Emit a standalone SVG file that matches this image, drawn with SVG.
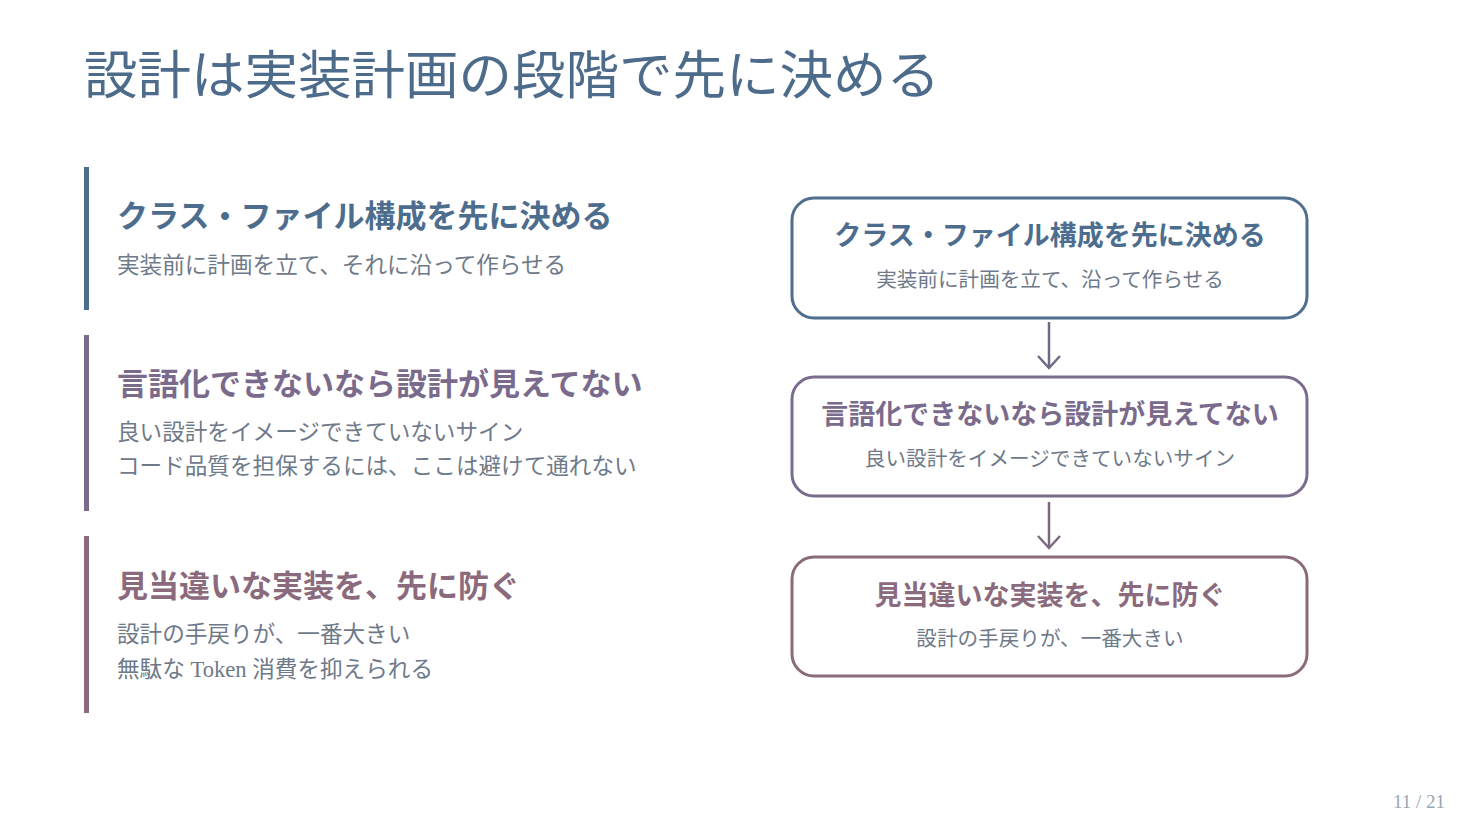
<svg xmlns="http://www.w3.org/2000/svg" width="1470" height="828" viewBox="0 0 1470 828">
<defs>
<style>
.title{font-family:"Noto Sans CJK JP","Noto Sans",sans-serif;font-size:52px;font-weight:400;fill:#4d6b8b}
.h{font-family:"Noto Sans CJK JP","Noto Sans",sans-serif;font-size:31px;font-weight:700}
.s{font-family:"Liberation Serif","Noto Sans CJK JP",serif;font-size:22.6px;fill:#6e7a8a}
.bh{font-family:"Noto Sans CJK JP","Noto Sans",sans-serif;font-size:27px;font-weight:700;text-anchor:middle}
.bs{font-family:"Liberation Serif","Noto Sans CJK JP",serif;font-size:20.6px;fill:#6e7a8a;text-anchor:middle}
.c1{fill:#4d6d8e}.c2{fill:#7a6a8c}.c3{fill:#8a6a7c}
.box{fill:#ffffff;stroke-width:3}
.pg{font-family:"Liberation Serif",serif;font-size:19px;fill:#9aa6b6}
</style>
<marker id="chev" viewBox="0 0 24 24" refX="20" refY="12" markerWidth="24" markerHeight="24" markerUnits="userSpaceOnUse" orient="auto">
<path d="M8,1 L20,12 L8,23" fill="none" stroke="context-stroke" stroke-width="2.5"/>
</marker>
</defs>
<rect width="1470" height="828" fill="#ffffff"/>
<text class="title" x="84" y="94" textLength="856" lengthAdjust="spacingAndGlyphs">設計は実装計画の段階で先に決める</text>

<g id="left1">
<rect x="84" y="167" width="5" height="143" class="c1"/>
<text class="h c1" x="117" y="227">クラス・ファイル構成を先に決める</text>
<text class="s" x="117" y="273">実装前に計画を立て、それに沿って作らせる</text>
</g>
<g id="left2">
<rect x="84" y="335" width="5" height="176" class="c2"/>
<text class="h c2" x="117" y="395">言語化できないなら設計が見えてない</text>
<text class="s" x="117" y="440">良い設計をイメージできていないサイン</text>
<text class="s" x="117" y="474">コード品質を担保するには、ここは避けて通れない</text>
</g>
<g id="left3">
<rect x="84" y="536" width="5" height="177" class="c3"/>
<text class="h c3" x="117" y="597">見当違いな実装を、先に防ぐ</text>
<text class="s" x="117" y="642">設計の手戻りが、一番大きい</text>
<text class="s" x="117" y="677">無駄な Token 消費を抑えられる</text>
</g>

<g id="box1">
<rect x="792" y="198" width="515" height="120" rx="22" class="box" stroke="#4f6f8f"/>
<text class="bh c1" x="1050" y="245">クラス・ファイル構成を先に決める</text>
<text class="bs" x="1050" y="287">実装前に計画を立て、沿って作らせる</text>
</g>
<g id="box2">
<rect x="792" y="377" width="515" height="119" rx="22" class="box" stroke="#7a6c8c"/>
<text class="bh c2" x="1050" y="424">言語化できないなら設計が見えてない</text>
<text class="bs" x="1050" y="466">良い設計をイメージできていないサイン</text>
</g>
<g id="box3">
<rect x="792" y="557" width="515" height="119" rx="22" class="box" stroke="#8a6b7b"/>
<text class="bh c3" x="1050" y="605">見当違いな実装を、先に防ぐ</text>
<text class="bs" x="1050" y="646">設計の手戻りが、一番大きい</text>
</g>

<g id="connectors" fill="none" stroke-width="2.5">
<line x1="1049" y1="322" x2="1049" y2="368" stroke="#6c6a88" marker-end="url(#chev)"/>
<line x1="1049" y1="502" x2="1049" y2="548" stroke="#7a6a80" marker-end="url(#chev)"/>
</g>

<text class="pg" x="1445" y="808" text-anchor="end">11 / 21</text>
</svg>
